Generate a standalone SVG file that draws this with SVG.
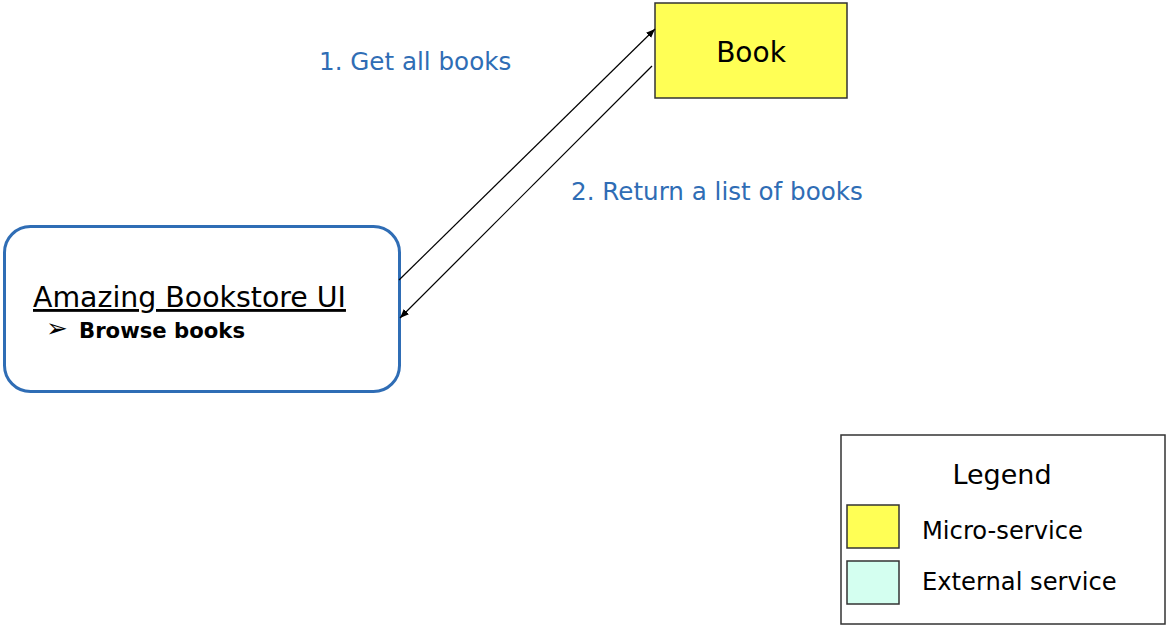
<svg xmlns="http://www.w3.org/2000/svg" width="1168" height="628" viewBox="0 0 1168 628">
<style>
text{font-family:"DejaVu Sans",Verdana,sans-serif;fill:#000}
.lbl{fill:#2F6DB5;font-size:24.6px}
.box{stroke:#333;stroke-width:1.5}
.conn{stroke:#000;stroke-width:1.2;fill:none;marker-end:url(#ah)}
</style>
<defs>
<marker id="ah" viewBox="0 0 10 10" refX="10" refY="5" markerWidth="9" markerHeight="9" markerUnits="userSpaceOnUse" orient="auto">
<path d="M0,1 L10,5 L0,9 Z" fill="#000"/>
</marker>
</defs>
<rect width="1168" height="628" fill="#fff"/>
<g id="ui">
<rect x="4.5" y="226.5" width="395" height="165" rx="26" fill="#fff" stroke="#2F6DB5" stroke-width="3"/>
<text x="33" y="307" font-size="28.4" text-decoration="underline">Amazing Bookstore UI</text>
<text x="46" y="337" font-size="26">➢</text>
<text x="79" y="338" font-size="21.2" font-weight="bold">Browse books</text>
</g>
<g id="book">
<rect class="box" x="655" y="3" width="192" height="95" fill="#FFFF55"/>
<text x="751" y="62" font-size="28" text-anchor="middle">Book</text>
</g>
<g id="connectors">
<line class="conn" x1="399" y1="280" x2="655" y2="29"/>
<line class="conn" x1="652" y1="66" x2="400" y2="318"/>
<text class="lbl" x="319" y="70">1. Get all books</text>
<text class="lbl" x="571" y="200">2. Return a list of books</text>
</g>
<g id="legend">
<rect class="box" x="841" y="435" width="324" height="189" fill="#fff"/>
<text x="1002" y="484" font-size="27" text-anchor="middle">Legend</text>
<rect class="box" x="847" y="505" width="52" height="43" fill="#FFFF55"/>
<text x="922" y="539" font-size="24.2">Micro-service</text>
<rect class="box" x="847" y="561" width="52" height="43" fill="#D4FFF0"/>
<text x="922" y="590" font-size="24.2">External service</text>
</g>
</svg>
